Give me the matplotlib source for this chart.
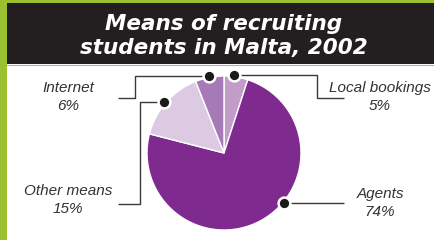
import numpy as np
import matplotlib
matplotlib.use("Agg")
import matplotlib.pyplot as plt
from matplotlib.patches import Rectangle

# ---- data ----
categories = ["Local bookings", "Agents", "Other means", "Internet"]
values = [5, 74, 15, 6]
pct_labels = ["5%", "74%", "15%", "6%"]
title = "Means of recruiting\nstudents in Malta, 2002"

# ---- style ----
colors = ["#c29dca", "#7e2a8f", "#dccae3", "#a57ab6"]
W, H = 434, 240
fig = plt.figure(figsize=(W / 100, H / 100), dpi=100)
ax = fig.add_axes([0, 0, 1, 1])

def py(y):
    return H - y

# background frame
ax.add_patch(Rectangle((0, 0), W, H, facecolor="white", edgecolor="none", zorder=0))
ax.add_patch(Rectangle((0, 0), 7, H, facecolor="#9bc130", edgecolor="none", zorder=1))
ax.add_patch(Rectangle((0, py(3)), W, 3, facecolor="#9bc130", edgecolor="none", zorder=1))
ax.add_patch(Rectangle((7, py(64)), W - 7, 61, facecolor="#231f20", edgecolor="none", zorder=1))
ax.plot([7, W], [py(64.5), py(64.5)], color="#b0b0b0", lw=0.8, zorder=2)

ax.text(224, py(36), title, ha="center", va="center", color="white",
        fontsize=15.5, fontweight="bold", style="italic", family="DejaVu Sans",
        linespacing=1.2, zorder=3)

cx, cy, R = 224, py(153), 77
wedges, _ = ax.pie(values, colors=colors, startangle=90, counterclock=False,
                   center=(cx, cy), radius=R, frame=True,
                   wedgeprops=dict(edgecolor="white", linewidth=1.0))
for w in wedges:
    w.set_zorder(4)

# leader styling: fraction along wedge where the dot sits, bend points, label position
leaders = {
    "Local bookings": dict(frac=0.6, path=[(317, None), (317, 98), (344, 98)], label=(380, 97)),
    "Agents": dict(frac=0.58, path=[(344, None)], label=(380, 203)),
    "Other means": dict(frac=0.52, path=[(140, None), (140, 204), (118, 204)], label=(68, 200)),
    "Internet": dict(frac=0.5, path=[(135, None), (135, 98), (118, 98)], label=(68, 97)),
}

for w, cat, pct in zip(wedges, categories, pct_labels):
    d = leaders[cat]
    ang = np.deg2rad(w.theta1 + d["frac"] * (w.theta2 - w.theta1))
    dx = cx + (R + 1.5) * np.cos(ang)
    dy_data = cy + (R + 1.5) * np.sin(ang)
    pts = [(dx, dy_data)]
    for (px_, pyy) in d["path"]:
        pts.append((px_, dy_data if pyy is None else py(pyy)))
    ax.plot([p[0] for p in pts], [p[1] for p in pts], color="#3a3a3a", lw=1.0,
            zorder=5, solid_capstyle="butt")
    ax.plot([dx], [dy_data], marker="o", ms=8.5, mfc="#1a1a1a", mec="white", mew=1.8, zorder=6)
    lx, ly = d["label"]
    ax.text(lx, py(ly), f"{cat}\n{pct}", ha="center", va="center", fontsize=11,
            style="italic", color="#333333", family="Liberation Sans",
            linespacing=1.45, zorder=6)

ax.set_xlim(0, W)
ax.set_ylim(0, H)
ax.set_aspect("equal")
ax.axis("off")
fig.savefig("out.png", dpi=100)
